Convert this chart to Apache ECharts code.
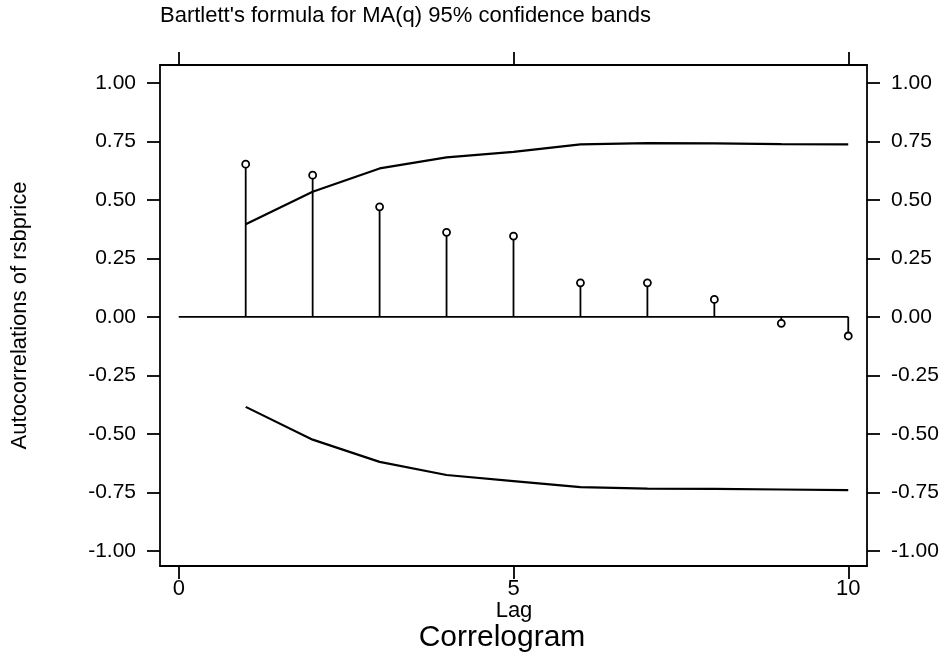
<!DOCTYPE html>
<html>
<head>
<meta charset="utf-8">
<script src="https://cdn.jsdelivr.net/npm/echarts@6/dist/echarts.min.js"></script>
<style>
  html, body { margin: 0; padding: 0; background: #fff; }
  #main { width: 945px; height: 659px; }
</style>
</head>
<body>
<div id="main"></div>
<script>
// lags and autocorrelations
var lags = [1, 2, 3, 4, 5, 6, 7, 8, 9, 10];
var acf = [0.652, 0.605, 0.470, 0.361, 0.345, 0.145, 0.145, 0.074, -0.028, -0.082];
// Bartlett 95% bands
var upperBand = [0.395, 0.534, 0.634, 0.681, 0.705, 0.737, 0.742, 0.741, 0.738, 0.737];
var lowerBand = [-0.385, -0.525, -0.620, -0.676, -0.702, -0.728, -0.734, -0.735, -0.738, -0.741];
var xTicks = [0, 5, 10];
var yTicks = [-1, -0.75, -0.5, -0.25, 0, 0.25, 0.5, 0.75, 1];
var zeroLine = [[0, 0], [10, 0]];

var FONT = 'Liberation Sans, Arial, sans-serif';

var chart = echarts.init(document.getElementById('main'), null, { renderer: 'canvas' });

function pairs(ys) {
  return lags.map(function (l, i) { return [l, ys[i]]; });
}

var axisLine = { show: true, onZero: false, lineStyle: { color: '#000', width: 1.8 } };
var tick = function (vals) {
  return { show: true, inside: false, length: 13, customValues: vals, lineStyle: { color: '#000', width: 1.8 } };
};

var option = {
  animation: false,
  backgroundColor: '#fff',
  grid: { left: 160, right: 78, top: 65, bottom: 93, containLabel: false, outerBoundsMode: 'none' },
  xAxis: [{
    type: 'value',
    position: 'bottom',
    min: -0.28,
    max: 10.28,
    axisLine: axisLine,
    axisTick: tick(xTicks),
    axisLabel: { customValues: xTicks, margin: 12, color: '#000', fontSize: 22, fontFamily: FONT },
    splitLine: { show: false }
  }, {
    type: 'value',
    position: 'top',
    min: -0.28,
    max: 10.28,
    axisLine: axisLine,
    axisTick: tick(xTicks),
    axisLabel: { show: false },
    splitLine: { show: false }
  }],
  yAxis: [{
    type: 'value',
    position: 'left',
    min: -1.065,
    max: 1.076,
    name: 'Autocorrelations of rsbprice',
    nameLocation: 'middle',
    nameGap: 129,
    nameTextStyle: { color: '#000', fontSize: 22, fontFamily: FONT },
    axisLine: axisLine,
    axisTick: tick(yTicks),
    axisLabel: {
      customValues: yTicks, margin: 24, color: '#000', fontSize: 21, fontFamily: FONT,
      formatter: function (v) { return v.toFixed(2); }
    },
    splitLine: { show: false }
  }, {
    type: 'value',
    position: 'right',
    min: -1.065,
    max: 1.076,
    axisLine: axisLine,
    axisTick: tick(yTicks),
    axisLabel: {
      customValues: yTicks, margin: 24, color: '#000', fontSize: 21, fontFamily: FONT,
      formatter: function (v) { return v.toFixed(2); }
    },
    splitLine: { show: false }
  }],
  graphic: [{
    type: 'text',
    left: 160,
    top: 5,
    style: { text: "Bartlett's formula for MA(q) 95% confidence bands", fill: '#000', font: '22px ' + FONT }
  }, {
    type: 'text',
    x: 514,
    y: 611,
    style: { text: 'Lag', fill: '#000', font: '22px ' + FONT, textAlign: 'center', textVerticalAlign: 'middle' }
  }, {
    type: 'text',
    x: 502,
    y: 638,
    style: { text: 'Correlogram', fill: '#000', font: '30px ' + FONT, textAlign: 'center', textVerticalAlign: 'middle' }
  }],
  series: [{
    type: 'line',
    data: zeroLine,
    symbol: 'none',
    lineStyle: { color: '#000', width: 1.8 },
    z: 2
  }, {
    type: 'bar',
    data: pairs(acf),
    barWidth: 1.8,
    itemStyle: { color: '#000' },
    z: 3
  }, {
    type: 'line',
    data: pairs(upperBand),
    symbol: 'none',
    lineStyle: { color: '#000', width: 2.2 },
    z: 2
  }, {
    type: 'line',
    data: pairs(lowerBand),
    symbol: 'none',
    lineStyle: { color: '#000', width: 2.2 },
    z: 2
  }, {
    type: 'scatter',
    data: pairs(acf),
    symbol: 'circle',
    symbolSize: 7,
    itemStyle: { color: '#fff', borderColor: '#000', borderWidth: 1.8, opacity: 1 },
    z: 4
  }]
};

chart.setOption(option);
</script>
</body>
</html>
